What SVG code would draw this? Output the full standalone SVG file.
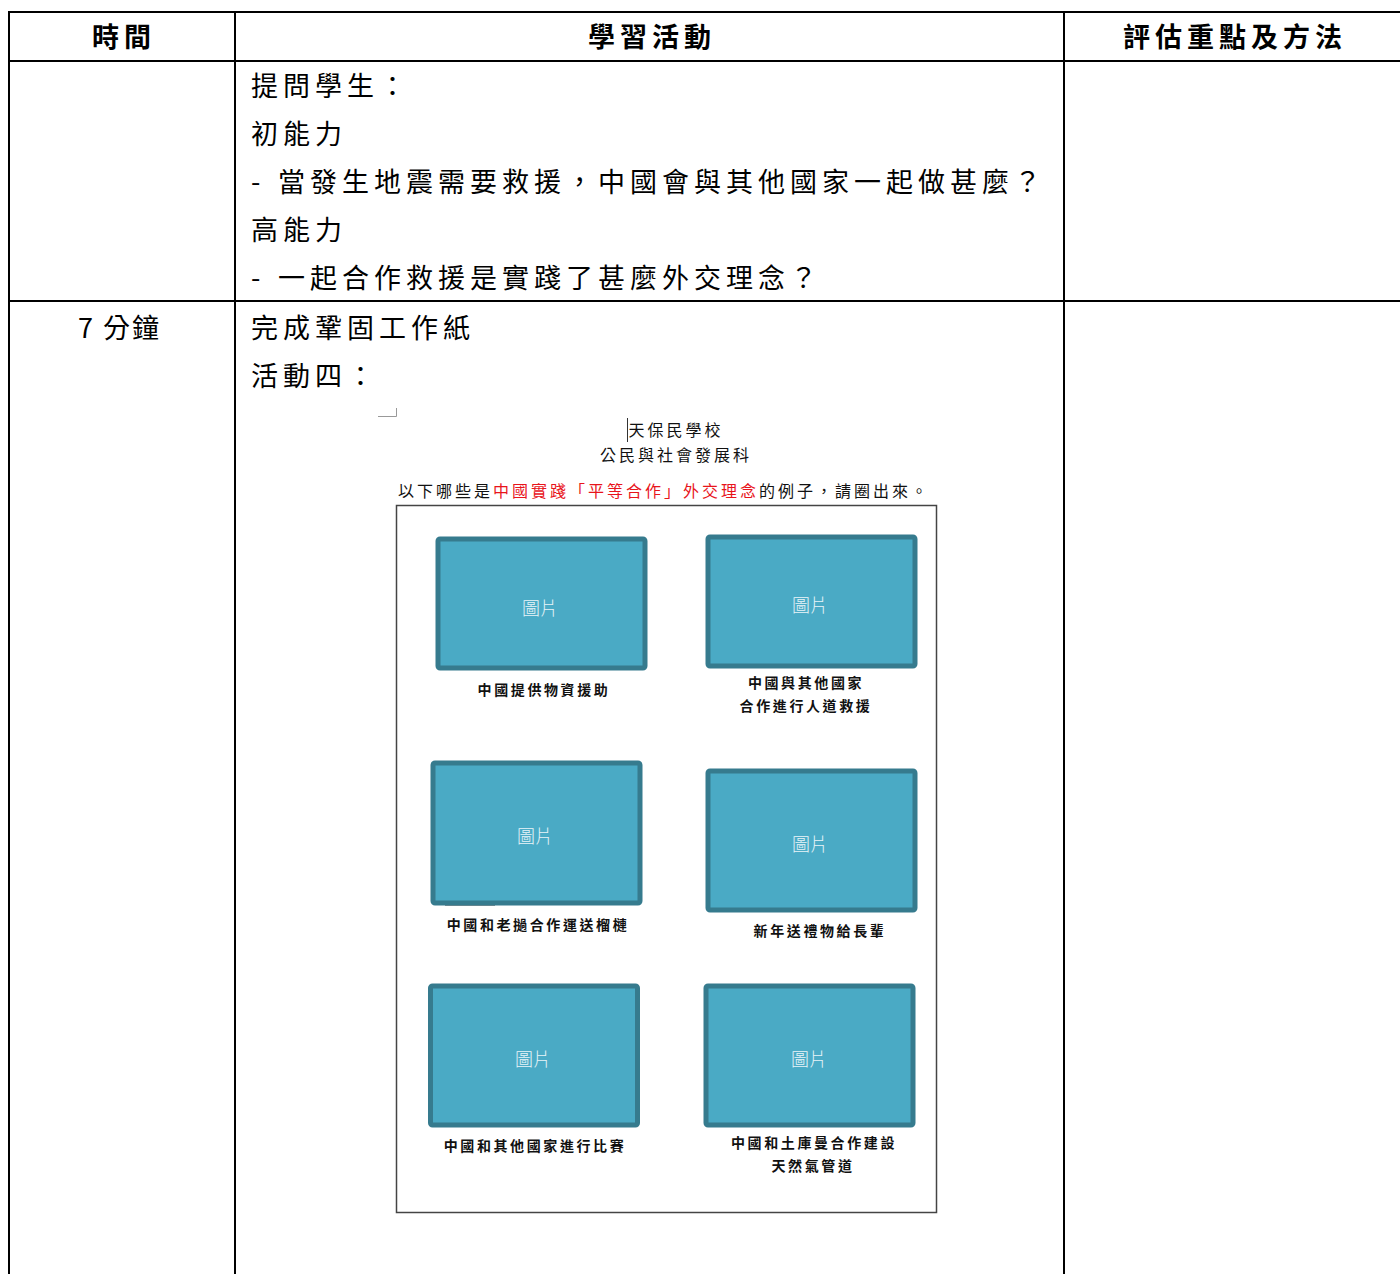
<svg xmlns="http://www.w3.org/2000/svg" width="1400" height="1274" viewBox="0 0 1400 1274">
<style>
.grid{stroke:#000;stroke-width:2;fill:none}
.hd{font-family:"Noto Sans CJK TC","Noto Sans CJK SC",sans-serif;font-size:27px;font-weight:700;letter-spacing:5px;fill:#000;text-anchor:middle}
.bd{font-family:"Noto Sans CJK TC","Noto Sans CJK SC",sans-serif;font-size:27px;letter-spacing:5px;fill:#000}
.ws{font-family:"Noto Sans CJK TC","Noto Sans CJK SC",sans-serif;font-size:16px;letter-spacing:3px;fill:#111;text-anchor:middle}
.cap{font-family:"Noto Sans CJK TC","Noto Sans CJK SC",sans-serif;font-size:14px;font-weight:700;letter-spacing:2.6px;fill:#111;text-anchor:middle}
.pic{fill:#4aaac5;stroke:#367b8e;stroke-width:5}
.pt{font-family:"Noto Sans CJK TC","Noto Sans CJK SC",sans-serif;font-size:18px;font-weight:300;fill:#e8f4f8;text-anchor:middle}
.red{fill:#e8141b}
</style>
<rect width="1400" height="1274" fill="#fff"/>
<g id="table">
<line class="grid" x1="9" y1="12" x2="1400" y2="12"/>
<line class="grid" x1="9" y1="61" x2="1400" y2="61"/>
<line class="grid" x1="9" y1="301" x2="1400" y2="301"/>
<line class="grid" x1="9" y1="11" x2="9" y2="1274"/>
<line class="grid" x1="235" y1="11" x2="235" y2="1274"/>
<line class="grid" x1="1064" y1="11" x2="1064" y2="1274"/>
</g>
<g id="header">
<text class="hd" x="124" y="47">時間</text>
<text class="hd" x="652" y="47">學習活動</text>
<text class="hd" x="1235" y="47">評估重點及方法</text>
</g>
<g id="row1">
<text class="bd" x="251" y="96">提問學生：</text>
<text class="bd" x="251" y="144">初能力</text>
<text class="bd" x="251" y="192">-</text>
<text class="bd" x="278" y="192">當發生地震需要救援，中國會與其他國家一起做甚麼？</text>
<text class="bd" x="251" y="240">高能力</text>
<text class="bd" x="251" y="288">-</text>
<text class="bd" x="278" y="288">一起合作救援是實踐了甚麼外交理念？</text>
</g>
<g id="row2">
<text class="bd" x="78" y="338" style="letter-spacing:2px">7 分鐘</text>
<text class="bd" x="251" y="338">完成鞏固工作紙</text>
<text class="bd" x="251" y="386">活動四：</text>
</g>
<g id="worksheet">
<path d="M378 416.5H396.5V408" fill="none" stroke="#999" stroke-width="1"/>
<line x1="627.5" y1="418" x2="627.5" y2="442" stroke="#333" stroke-width="1"/>
<text class="ws" x="676" y="436">天保民學校</text>
<text class="ws" x="676" y="461">公民與社會發展科</text>
<text class="ws" x="664" y="497">以下哪些是<tspan class="red">中國實踐「平等合作」外交理念</tspan>的例子，請圈出來。</text>
<rect x="396.5" y="505.5" width="540" height="707" fill="none" stroke="#444" stroke-width="1.5"/>
</g>
<g id="pic1">
<rect class="pic" x="438" y="539" width="207" height="129" rx="2"/>
<text class="pt" x="540" y="615">圖片</text>
<text class="cap" x="544" y="695">中國提供物資援助</text>
</g>
<g id="pic2">
<rect class="pic" x="708" y="537" width="207" height="129" rx="2"/>
<text class="pt" x="810" y="612">圖片</text>
<text class="cap" x="806" y="688">中國與其他國家</text>
<text class="cap" x="806" y="711">合作進行人道救援</text>
</g>
<g id="pic3">
<rect x="445" y="903" width="50" height="2.5" fill="#222"/>
<rect x="498" y="903" width="125" height="2" fill="#e8d27a"/>
<rect class="pic" x="433" y="763" width="207" height="140" rx="2"/>
<text class="pt" x="535" y="843">圖片</text>
<text class="cap" x="538" y="930">中國和老撾合作運送榴槤</text>
</g>
<g id="pic4">
<rect class="pic" x="708" y="771" width="207" height="139" rx="2"/>
<text class="pt" x="810" y="851">圖片</text>
<text class="cap" x="820" y="936">新年送禮物給長輩</text>
</g>
<g id="pic5">
<rect class="pic" x="430.5" y="986" width="207" height="139" rx="2"/>
<text class="pt" x="533" y="1066">圖片</text>
<text class="cap" x="535" y="1151">中國和其他國家進行比賽</text>
</g>
<g id="pic6">
<rect class="pic" x="706" y="986" width="207" height="139" rx="2"/>
<text class="pt" x="809" y="1066">圖片</text>
<text class="cap" x="814" y="1148">中國和土庫曼合作建設</text>
<text class="cap" x="813" y="1171">天然氣管道</text>
</g>
</svg>
